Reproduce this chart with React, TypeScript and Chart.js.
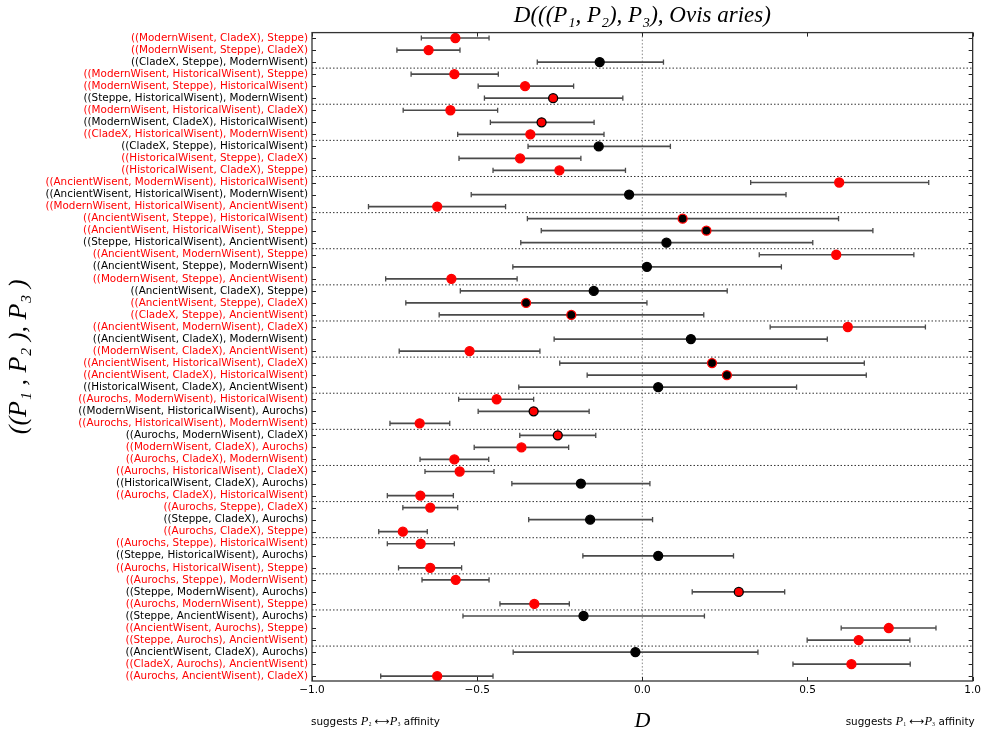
import React, { useEffect, useRef } from 'react';
import { Chart, registerables } from 'chart.js';

Chart.register(...registerables);

const R = '#ff0000';
const K = '#000000';

const rowLabels = [
  '((ModernWisent, CladeX), Steppe)',
  '((ModernWisent, Steppe), CladeX)',
  '((CladeX, Steppe), ModernWisent)',
  '((ModernWisent, HistoricalWisent), Steppe)',
  '((ModernWisent, Steppe), HistoricalWisent)',
  '((Steppe, HistoricalWisent), ModernWisent)',
  '((ModernWisent, HistoricalWisent), CladeX)',
  '((ModernWisent, CladeX), HistoricalWisent)',
  '((CladeX, HistoricalWisent), ModernWisent)',
  '((CladeX, Steppe), HistoricalWisent)',
  '((HistoricalWisent, Steppe), CladeX)',
  '((HistoricalWisent, CladeX), Steppe)',
  '((AncientWisent, ModernWisent), HistoricalWisent)',
  '((AncientWisent, HistoricalWisent), ModernWisent)',
  '((ModernWisent, HistoricalWisent), AncientWisent)',
  '((AncientWisent, Steppe), HistoricalWisent)',
  '((AncientWisent, HistoricalWisent), Steppe)',
  '((Steppe, HistoricalWisent), AncientWisent)',
  '((AncientWisent, ModernWisent), Steppe)',
  '((AncientWisent, Steppe), ModernWisent)',
  '((ModernWisent, Steppe), AncientWisent)',
  '((AncientWisent, CladeX), Steppe)',
  '((AncientWisent, Steppe), CladeX)',
  '((CladeX, Steppe), AncientWisent)',
  '((AncientWisent, ModernWisent), CladeX)',
  '((AncientWisent, CladeX), ModernWisent)',
  '((ModernWisent, CladeX), AncientWisent)',
  '((AncientWisent, HistoricalWisent), CladeX)',
  '((AncientWisent, CladeX), HistoricalWisent)',
  '((HistoricalWisent, CladeX), AncientWisent)',
  '((Aurochs, ModernWisent), HistoricalWisent)',
  '((ModernWisent, HistoricalWisent), Aurochs)',
  '((Aurochs, HistoricalWisent), ModernWisent)',
  '((Aurochs, ModernWisent), CladeX)',
  '((ModernWisent, CladeX), Aurochs)',
  '((Aurochs, CladeX), ModernWisent)',
  '((Aurochs, HistoricalWisent), CladeX)',
  '((HistoricalWisent, CladeX), Aurochs)',
  '((Aurochs, CladeX), HistoricalWisent)',
  '((Aurochs, Steppe), CladeX)',
  '((Steppe, CladeX), Aurochs)',
  '((Aurochs, CladeX), Steppe)',
  '((Aurochs, Steppe), HistoricalWisent)',
  '((Steppe, HistoricalWisent), Aurochs)',
  '((Aurochs, HistoricalWisent), Steppe)',
  '((Aurochs, Steppe), ModernWisent)',
  '((Steppe, ModernWisent), Aurochs)',
  '((Aurochs, ModernWisent), Steppe)',
  '((Steppe, AncientWisent), Aurochs)',
  '((AncientWisent, Aurochs), Steppe)',
  '((Steppe, Aurochs), AncientWisent)',
  '((AncientWisent, CladeX), Aurochs)',
  '((CladeX, Aurochs), AncientWisent)',
  '((Aurochs, AncientWisent), CladeX)',
];

const labelColors = [
  R, R, K, R, R, K, R, K, R, K, R, R,
  R, K, R, R, R, K, R, K, R, K, R, R,
  R, K, R, R, R, K, R, K, R, K, R, R,
  R, K, R, R, K, R, R, K, R, R, K, R,
  K, R, R, K, R, R,
];

const markerFill = [
  R, R, K, R, R, R, R, R, R, K, R, R,
  R, K, R, K, K, K, R, K, R, K, K, K,
  R, K, R, K, K, K, R, R, R, R, R, R,
  R, K, R, R, K, R, R, K, R, R, R, R,
  K, R, R, K, R, R,
];

const dValues = [
  -0.566, -0.647, -0.129, -0.569, -0.355, -0.270, -0.581, -0.305, -0.339, -0.132, -0.370, -0.251,
  0.596, -0.040, -0.621, 0.122, 0.194, 0.073, 0.587, 0.014, -0.578, -0.147, -0.352, -0.215,
  0.622, 0.147, -0.523, 0.211, 0.256, 0.048, -0.441, -0.329, -0.674, -0.256, -0.366, -0.569,
  -0.553, -0.186, -0.672, -0.642, -0.158, -0.725, -0.671, 0.048, -0.642, -0.565, 0.292, -0.327,
  -0.178, 0.746, 0.655, -0.021, 0.633, -0.621,
];

const lowerBounds = [
  -0.669, -0.743, -0.318, -0.700, -0.497, -0.478, -0.724, -0.460, -0.559, -0.346, -0.555, -0.452,
  0.328, -0.518, -0.829, -0.348, -0.306, -0.368, 0.354, -0.392, -0.777, -0.551, -0.716, -0.615,
  0.387, -0.267, -0.736, -0.250, -0.167, -0.374, -0.556, -0.497, -0.764, -0.371, -0.509, -0.673,
  -0.658, -0.395, -0.772, -0.725, -0.344, -0.798, -0.772, -0.180, -0.738, -0.667, 0.151, -0.431,
  -0.543, 0.602, 0.499, -0.391, 0.456, -0.792,
];

const upperBounds = [
  -0.464, -0.552, 0.064, -0.436, -0.208, -0.059, -0.438, -0.146, -0.116, 0.085, -0.186, -0.051,
  0.867, 0.435, -0.414, 0.594, 0.698, 0.516, 0.822, 0.421, -0.379, 0.257, 0.014, 0.186,
  0.857, 0.560, -0.310, 0.672, 0.678, 0.467, -0.329, -0.161, -0.583, -0.141, -0.223, -0.465,
  -0.449, 0.023, -0.572, -0.559, 0.031, -0.651, -0.569, 0.276, -0.547, -0.464, 0.431, -0.221,
  0.188, 0.889, 0.810, 0.350, 0.811, -0.452,
];

const groupBreaks = [2.5, 5.5, 8.5, 11.5, 14.5, 17.5, 20.5, 23.5, 26.5, 29.5, 32.5, 35.5, 38.5, 41.5, 44.5, 47.5, 50.5];

const xTickValues = [-1, -0.5, 0, 0.5, 1];

const Y_MIN = -0.45;
const Y_MAX = 53.4;

const SANS = '"DejaVu Sans", sans-serif';
const SERIF = '"Liberation Serif", "DejaVu Serif", serif';

type Seg = [string, string];

function drawSegments(ctx: CanvasRenderingContext2D, segs: Seg[], x: number, y: number, alignRight: boolean) {
  let total = 0;
  for (const [t, f] of segs) {
    ctx.font = f;
    total += ctx.measureText(t).width;
  }
  let cx = alignRight ? x - total : x;
  for (const [t, f] of segs) {
    ctx.font = f;
    ctx.fillText(t, cx, y);
    cx += ctx.measureText(t).width;
  }
}

const decorPlugin = {
  id: 'decor',
  afterDraw(chart: any) {
    const { ctx, chartArea, scales } = chart;
    const { left, right, top, bottom } = chartArea;
    ctx.save();
    // inward tick marks
    ctx.strokeStyle = '#222';
    ctx.lineWidth = 1;
    ctx.beginPath();
    for (const v of xTickValues) {
      const px = Math.round(scales.x.getPixelForValue(v)) + 0.5;
      ctx.moveTo(px, top);
      ctx.lineTo(px, top + 4);
      ctx.moveTo(px, bottom);
      ctx.lineTo(px, bottom - 4);
    }
    for (let i = 0; i < rowLabels.length; i++) {
      const py = Math.round(scales.y.getPixelForValue(i)) + 0.5;
      ctx.moveTo(left, py);
      ctx.lineTo(left + 4, py);
      ctx.moveTo(right, py);
      ctx.lineTo(right - 4, py);
    }
    ctx.stroke();
    // frame
    ctx.strokeStyle = '#333';
    ctx.lineWidth = 1.3;
    ctx.strokeRect(left, top, right - left, bottom - top);
    // affinity annotations
    ctx.fillStyle = '#000';
    ctx.textBaseline = 'middle';
    const sans = `10.4px ${SANS}`;
    const it = `italic 12.5px ${SERIF}`;
    const sub = `9px ${SERIF}`;
    const ay = 722;
    drawSegments(ctx, [
      ['suggests ', sans], ['P', it], ['\u2082', sub], [' \u27F7', sans], ['P', it], ['\u2083', sub], [' affinity', sans],
    ], left - 1, ay, false);
    drawSegments(ctx, [
      ['suggests ', sans], ['P', it], ['\u2081', sub], [' \u27F7', sans], ['P', it], ['\u2083', sub], [' affinity', sans],
    ], right + 2, ay, true);
    ctx.restore();
  },
};

export default function App() {
  const ref = useRef<HTMLCanvasElement | null>(null);

  useEffect(() => {
    if (!ref.current) return;
    const errData: any[] = [];
    lowerBounds.forEach((lo, i) => {
      errData.push({ x: lo, y: i }, { x: upperBounds[i], y: i }, { x: null, y: null });
    });
    const sepData: any[] = [];
    groupBreaks.forEach((b) => {
      sepData.push({ x: -1, y: b }, { x: 1, y: b }, { x: null, y: null });
    });

    const chart = new Chart(ref.current, {
      type: 'scatter',
      data: {
        datasets: [
          {
            type: 'scatter',
            label: 'D',
            data: dValues.map((d, i) => ({ x: d, y: i })),
            backgroundColor: markerFill,
            borderColor: labelColors,
            pointRadius: 4.5,
            pointBorderWidth: 1.3,
            order: 0,
          } as any,
          {
            type: 'line',
            label: 'err',
            data: errData,
            borderColor: '#4a4a4a',
            borderWidth: 1.7,
            pointStyle: 'line',
            pointRotation: 90,
            pointRadius: 2.6,
            pointBorderColor: '#4a4a4a',
            pointBorderWidth: 1.3,
            spanGaps: false,
            order: 1,
          } as any,
          {
            type: 'line',
            label: 'sep',
            data: sepData,
            borderColor: '#333',
            borderWidth: 1,
            borderDash: [1.5, 2],
            pointRadius: 0,
            spanGaps: false,
            order: 2,
          } as any,
          {
            type: 'line',
            label: 'zero',
            data: [{ x: 0, y: Y_MIN }, { x: 0, y: Y_MAX }],
            borderColor: '#888',
            borderWidth: 1,
            borderDash: [1.5, 2],
            pointRadius: 0,
            order: 3,
          } as any,
        ],
      },
      options: {
        responsive: false,
        animation: false,
        devicePixelRatio: 1,
        events: [],
        layout: { padding: { left: 0, right: 9, top: 0, bottom: 0 } },
        plugins: {
          legend: { display: false },
          tooltip: { enabled: false },
          title: {
            display: true,
            text: 'D(((P\u2081, P\u2082), P\u2083), Ovis aries)',
            color: '#000',
            fullSize: false,
            font: { family: SERIF, style: 'italic', size: 23, weight: 'normal' },
            padding: { top: 2, bottom: 3 },
          } as any,
        },
        scales: {
          x: {
            type: 'linear',
            min: -1,
            max: 1,
            grid: { display: false, drawTicks: false },
            border: { display: false },
            afterBuildTicks: (scale: any) => {
              scale.ticks = xTickValues.map((v) => ({ value: v }));
            },
            afterFit: (scale: any) => {
              scale.height = 55;
            },
            ticks: {
              color: '#000',
              padding: 3,
              font: { family: SANS, size: 10.5 },
              callback: (v: any) => {
                const n = Number(v);
                const s = Math.abs(n).toFixed(1);
                return n < 0 ? '\u2212' + s : s;
              },
            },
            title: {
              display: true,
              text: 'D',
              color: '#000',
              font: { family: SERIF, style: 'italic', size: 22 },
              padding: { top: 0, bottom: 2 },
            },
          },
          y: {
            type: 'linear',
            reverse: true,
            min: Y_MIN,
            max: Y_MAX,
            grid: { display: false, drawTicks: false },
            border: { display: false },
            afterBuildTicks: (scale: any) => {
              scale.ticks = rowLabels.map((_, i) => ({ value: i }));
            },
            afterFit: (scale: any) => {
              scale.width = 312;
            },
            ticks: {
              autoSkip: false,
              padding: 4,
              font: { family: SANS, size: 10.4 },
              color: (c: any) => (c.tick ? labelColors[c.tick.value] : '#000'),
              callback: (v: any) => rowLabels[Number(v)] ?? '',
            },
            title: {
              display: true,
              text: '((P\u2081 , P\u2082 ), P\u2083 )',
              color: '#000',
              font: { family: SERIF, style: 'italic', size: 26 },
              padding: { top: 4, bottom: 0 },
            },
          },
        },
      },
      plugins: [decorPlugin],
    });
    return () => chart.destroy();
  }, []);

  return (
    <div style={{ position: 'absolute', left: 0, top: 0, width: 984, height: 736, background: '#fff' }}>
      <canvas ref={ref} width={984} height={736} style={{ display: 'block', width: 984, height: 736 }} />
    </div>
  );
}
